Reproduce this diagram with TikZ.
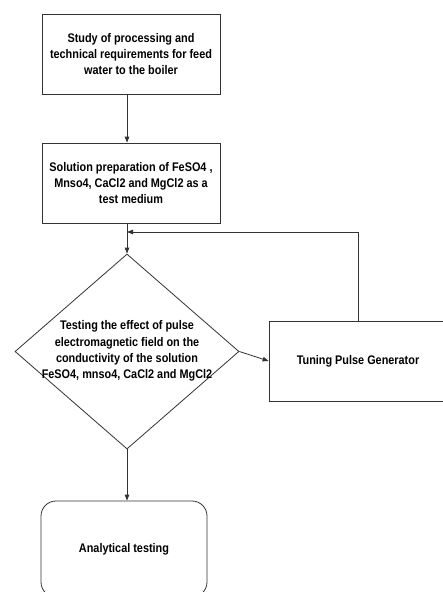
\documentclass[tikz,border=0pt]{standalone}
\usepackage{fontspec}
\setmainfont{Liberation Sans}[FakeStretch=0.87]
\usetikzlibrary{shapes.geometric,arrows.meta}
\begin{document}
\begin{tikzpicture}[x=1pt,y=-1pt,
  line/.style={draw=black!80,line width=0.8pt},
  arr/.style={line,-{Triangle[length=6pt,width=4.5pt]}},
  txt/.style={font=\bfseries\fontsize{12.5}{16.3}\selectfont,align=center},
  box/.style={line,rectangle,minimum width=178pt,minimum height=80pt,inner sep=0pt,txt}]
\useasboundingbox (0,0) rectangle (443,592);
\clip (0,0) rectangle (443,592);
\node[box] (b1) at (131,54) {Study of processing and\\technical requirements for feed\\water to the boiler};
\node[box] (b2) at (131,183) {Solution preparation of FeSO4 ,\\Mnso4, CaCl2 and MgCl2 as a\\test medium};
\node[line,diamond,minimum width=224pt,minimum height=195pt,inner sep=0pt] (d) at (127,351.5) {};
\node[txt] (dt) at (127,351) {Testing the effect of pulse\\electromagnetic field on the\\conductivity of the solution\\FeSO4, mnso4, CaCl2 and MgCl2};
\node[box] (tg) at (358,361) {Tuning Pulse Generator};
\node[line,rectangle,rounded corners=15pt,minimum width=166pt,minimum height=96pt,inner sep=0pt,txt] (at) at (124,549) {Analytical testing};
\coordinate (fb) at (127,232);
\draw[arr] (b1.south -| d.north) -- (b2.north -| d.north);
\draw[arr] (b2.south -| d.north) -- (d.north);
\draw[arr] (tg.north) |- (fb);
\draw[arr] (d.east) -- (tg.west);
\draw[arr] (d.south) -- (at.north -| d.south);
\end{tikzpicture}
\end{document}
